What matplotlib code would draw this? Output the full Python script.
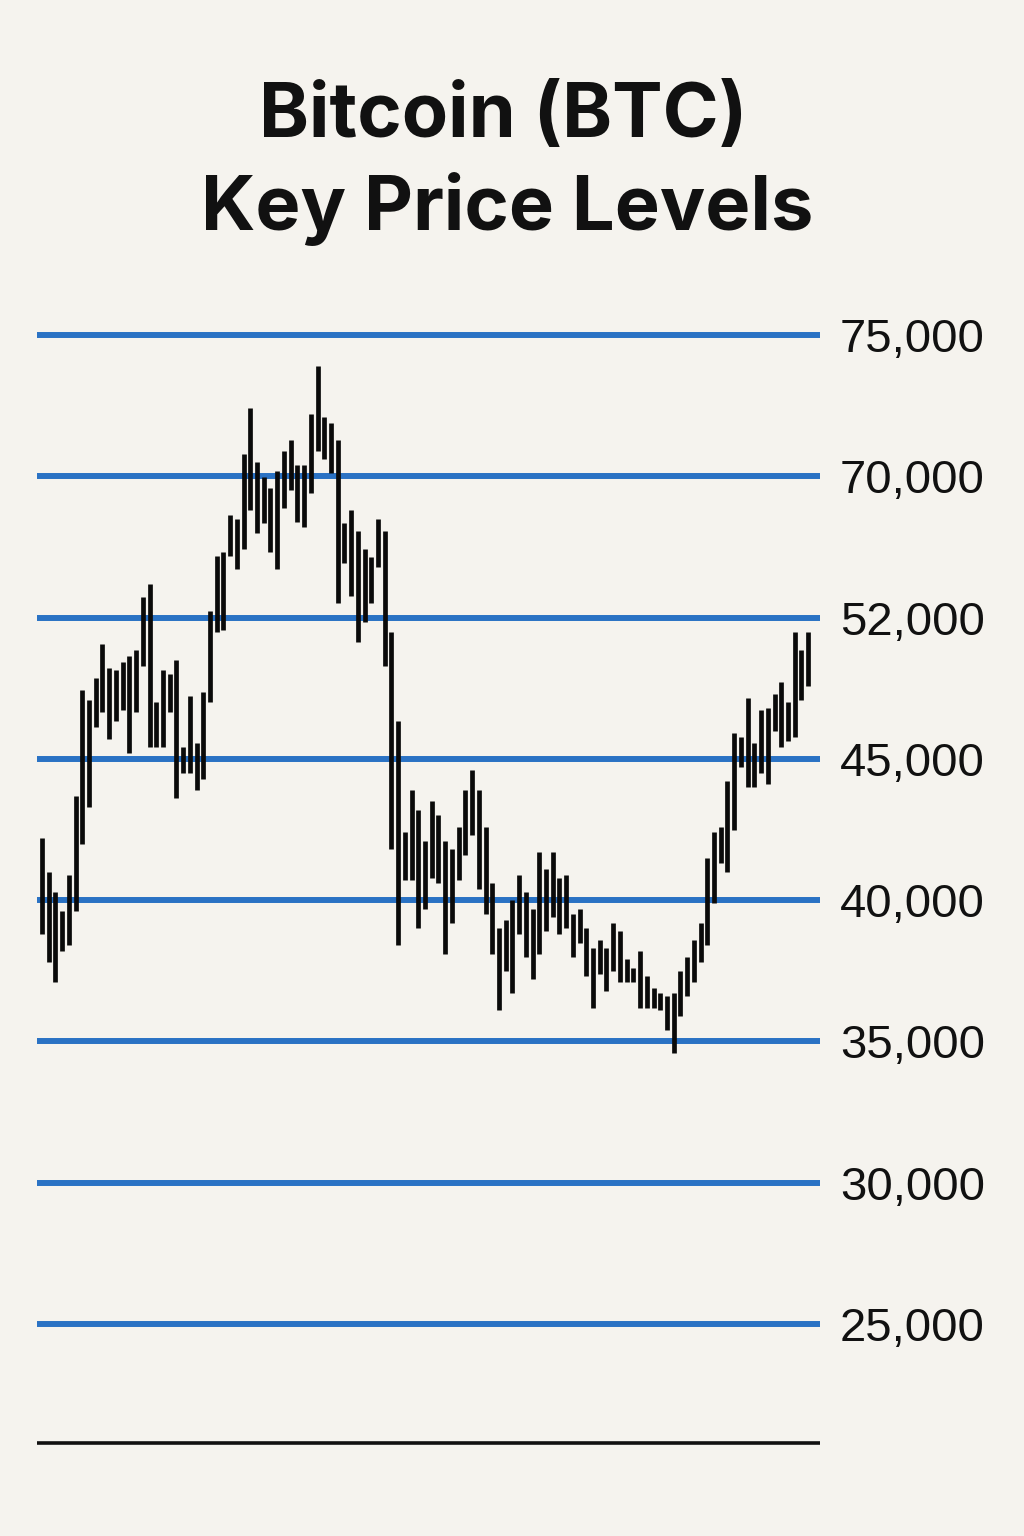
import numpy as np
import matplotlib
matplotlib.use("Agg")
import matplotlib.pyplot as plt

# ---- data -------------------------------------------------------------
title_line1 = "Bitcoin (BTC)"
title_line2 = "Key Price Levels"

# key price levels (top to bottom as shown)
levels = [75000, 70000, 52000, 45000, 40000, 35000, 30000, 25000]

# daily bar highs / lows
high = [42200, 41000, 40300, 39600, 40900, 43700, 48400, 47900, 49000, 50700,
        49500, 49400, 49800, 50100, 50400, 54600, 56300, 47800, 49400, 49200,
        49900, 45600, 48100, 45800, 48300, 52800, 59800, 60300, 65100, 64500,
        70800, 72400, 70500, 69900, 68500, 70200, 70900, 71300, 70400, 70400,
        72200, 73900, 72100, 71900, 71300, 64100, 65700, 63000, 60700, 59700,
        64500, 63000, 51300, 46900, 42400, 43900, 43200, 42100, 43500, 43000,
        42100, 41800, 42600, 43900, 44600, 43900, 42600, 40600, 39000, 39300,
        40000, 40900, 40300, 39700, 41700, 41100, 41700, 40800, 40900, 39500,
        39700, 39000, 38300, 38600, 38300, 39200, 38900, 37900, 37600, 38200,
        37300, 36900, 36700, 36600, 36700, 37500, 38000, 38600, 39200, 41500,
        42400, 42600, 44200, 46300, 46100, 48000, 45800, 47400, 47500, 48200,
        48800, 47800, 51300, 50400, 51300]

low = [38800, 37800, 37100, 38200, 38400, 39600, 42000, 43300, 46600, 47300,
       46000, 46900, 47400, 45300, 47300, 49600, 45600, 45600, 45600, 47300,
       43600, 44500, 44500, 43900, 44300, 47800, 51300, 51400, 59800, 58200,
       60700, 65700, 62800, 64100, 60300, 58200, 66000, 68200, 64200, 63600,
       67900, 70900, 70600, 70100, 53800, 59000, 54800, 50800, 51800, 53800,
       58500, 49600, 41800, 38400, 40700, 40700, 39000, 39700, 40800, 40600,
       38100, 39200, 40700, 41600, 42300, 40400, 39500, 38100, 36100, 37500,
       36700, 38800, 38000, 37200, 38100, 38900, 39400, 38800, 39000, 38000,
       38500, 37300, 36200, 37400, 36800, 37500, 37100, 37100, 37100, 36200,
       36200, 36200, 36100, 35400, 34600, 35900, 36600, 37100, 37800, 38400,
       39900, 41300, 41000, 42500, 44700, 44000, 44000, 44500, 44100, 46400,
       45600, 45900, 46100, 47900, 48600]

# ---- style ------------------------------------------------------------
BG = "#f5f3ee"
BLUE = "#2a72c4"
INK = "#111111"

fig = plt.figure(figsize=(10.24, 15.36), dpi=100, facecolor=BG)
ax = fig.add_axes([37 / 1024, (1536 - 1443) / 1536, 783 / 1024, (1443 - 320) / 1536])
ax.set_facecolor(BG)

# evenly spaced level scale (levels are equally spaced on screen)
lv_sorted = sorted(levels)
lv_ext = np.array([0.0] + lv_sorted + [150000.0])
pos_ext = np.array([-5.0] + list(range(len(lv_sorted))) + [len(lv_sorted) - 1 + 15.0])

def fwd(v):
    return np.interp(np.asarray(v, dtype=float), lv_ext, pos_ext)

def inv(p):
    return np.interp(np.asarray(p, dtype=float), pos_ext, lv_ext)

ax.set_yscale("function", functions=(fwd, inv))

x = np.arange(len(high))
for lv in levels:
    ax.axhline(lv, color=BLUE, lw=4.3, zorder=1, solid_capstyle="butt")

ax.vlines(x, low, high, color="#0a0a0a", lw=3.4, zorder=3)

ax.set_xlim(-0.744, 115.77)
ax.set_ylim(20790, 75530)

ax.yaxis.tick_right()
ax.set_yticks(levels)
ax.set_yticklabels([f"{v:,}" for v in levels], fontsize=34,
                   family=["Liberation Sans", "DejaVu Sans"], color=INK)
ax.tick_params(axis="y", length=0, pad=14.4)
ax.set_xticks([])
ax.yaxis.set_minor_locator(matplotlib.ticker.NullLocator())

for s in ["top", "left", "right"]:
    ax.spines[s].set_visible(False)
ax.spines["bottom"].set_color(INK)
ax.spines["bottom"].set_linewidth(2.6)
ax.spines["bottom"].set_capstyle("butt")

fig.text(0.491, 1 - 137 / 1536, title_line1, ha="center", va="baseline",
         fontsize=54.5, fontweight="bold", family=["Inter", "DejaVu Sans"], color=INK)
fig.text(0.495, 1 - 230 / 1536, title_line2, ha="center", va="baseline",
         fontsize=54.5, fontweight="bold", family=["Inter", "DejaVu Sans"], color=INK)

fig.savefig("out.png", dpi=100, facecolor=BG)
